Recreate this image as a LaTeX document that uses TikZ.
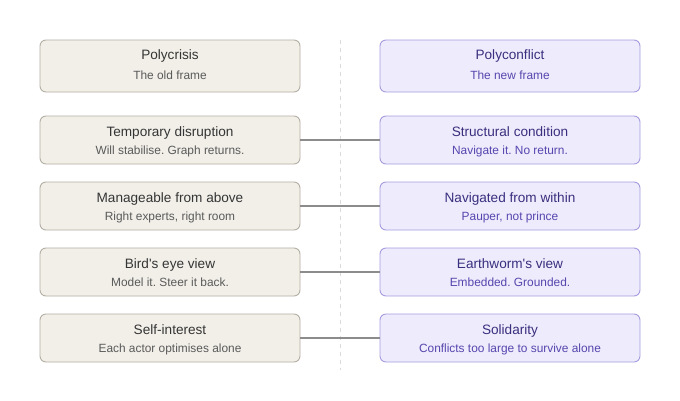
\documentclass[tikz,border=0pt]{standalone}
\usepackage{fontspec}
\setmainfont{Liberation Sans}
\frenchspacing
\definecolor{oldfill}{HTML}{F1EFE8}
\definecolor{olddraw}{HTML}{B4AFA4}
\definecolor{oldtitle}{HTML}{353535}
\definecolor{oldsub}{HTML}{5A5A5A}
\definecolor{newfill}{HTML}{EDEBFC}
\definecolor{newdraw}{HTML}{A59DDF}
\definecolor{newtitle}{HTML}{3A2F7E}
\definecolor{newsub}{HTML}{5646AE}
\definecolor{linkc}{HTML}{8C8C8C}
\definecolor{divc}{HTML}{DADADA}
\tikzset{
  oldbox/.style={draw=olddraw, fill=oldfill, line width=0.9pt, rounded corners=6pt, minimum width=260pt, minimum height=48pt, inner sep=0pt},
  newbox/.style={draw=newdraw, fill=newfill, line width=0.9pt, rounded corners=6pt, minimum width=260pt, minimum height=48pt, inner sep=0pt},
  oldt/.style={text=oldtitle, font=\fontsize{13.6pt}{15pt}\selectfont, inner sep=0pt, anchor=base},
  olds/.style={text=oldsub, font=\fontsize{11.9pt}{13pt}\selectfont, inner sep=0pt, anchor=base},
  newt/.style={text=newtitle, font=\fontsize{13.6pt}{15pt}\selectfont, inner sep=0pt, anchor=base},
  news/.style={text=newsub, font=\fontsize{11.9pt}{13pt}\selectfont, inner sep=0pt, anchor=base},
  link/.style={draw=linkc, line width=1.4pt},
  divider/.style={draw=divc, line width=0.9pt, dash pattern=on 4pt off 4pt}
}
\begin{document}
\begin{tikzpicture}[x=1pt,y=-1pt]
\useasboundingbox (0,0) rectangle (680,400);
\fill[white] (0,0) rectangle (680,400);
\coordinate (dtop) at (340,40);
\coordinate (dbot) at (340,370);
\draw[divider] (dtop) -- (dbot);
% header
\node[oldbox, minimum height=52pt] (L0) at (170,66) {};
\node[newbox, minimum height=52pt] (R0) at (510,66) {};
\node[oldt] (L0t) at ([yshift=6.7pt]L0.center) {Polycrisis};
\node[olds] (L0s) at ([yshift=-13.3pt]L0.center) {The old frame};
\node[newt] (R0t) at ([yshift=6.7pt]R0.center) {Polyconflict};
\node[news] (R0s) at ([yshift=-13.3pt]R0.center) {The new frame};
% rows
\foreach \i/\y/\lt/\ls/\rt/\rs in {
  1/140/{Temporary disruption}/{Will stabilise. Graph returns.}/{Structural condition}/{Navigate it. No return.},
  2/206/{Manageable from above}/{Right experts, right room}/{Navigated from within}/{Pauper, not prince},
  3/272/{Bird\textquotesingle s eye view}/{Model it. Steer it back.}/{Earthworm\textquotesingle s view}/{Embedded. Grounded.},
  4/338/{Self-interest}/{Each actor optimises alone}/{Solidarity}/{Conflicts too large to survive alone}}{
  \node[oldbox] (L\i) at (170,\y) {};
  \node[newbox] (R\i) at (510,\y) {};
  \node[oldt] (L\i t) at ([yshift=3.3pt]L\i.center) {\lt};
  \node[olds] (L\i s) at ([yshift=-14.3pt]L\i.center) {\ls};
  \node[newt] (R\i t) at ([yshift=3.3pt]R\i.center) {\rt};
  \node[news] (R\i s) at ([yshift=-14.3pt]R\i.center) {\rs};
  \draw[link] (L\i.east) -- (R\i.west);
}
\end{tikzpicture}
\end{document}
